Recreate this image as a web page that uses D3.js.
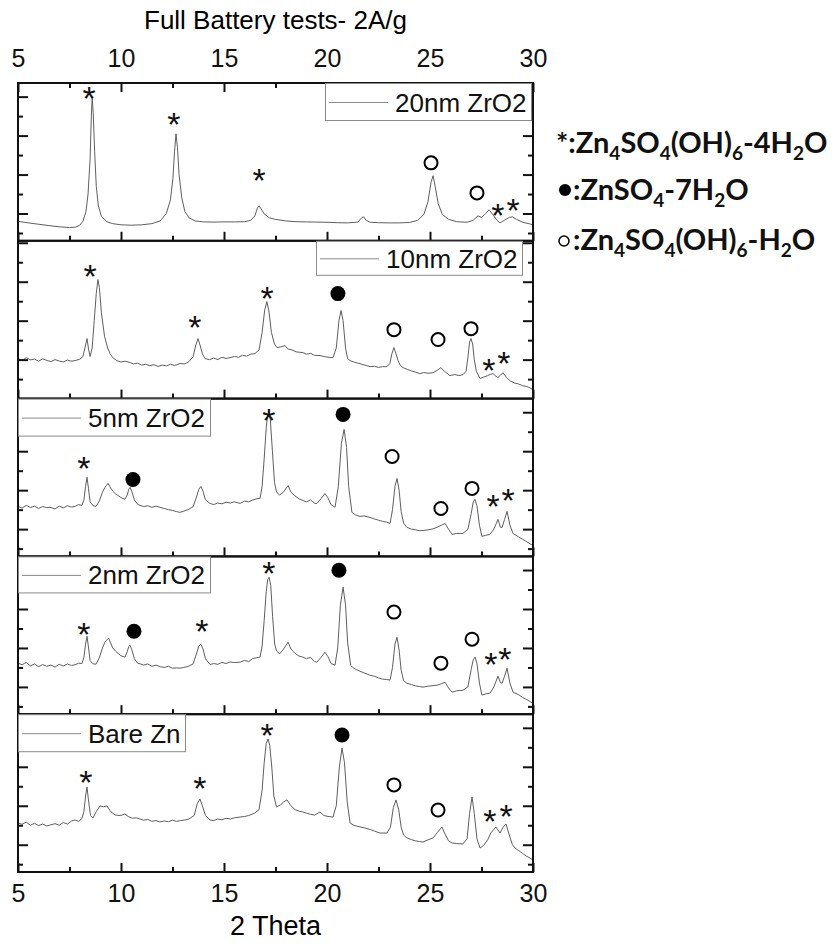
<!DOCTYPE html>
<html>
<head>
<meta charset="utf-8">
<script src="https://cdn.jsdelivr.net/npm/d3@7/dist/d3.min.js"></script>
<style>
body { margin: 0; background: #fff; }
svg { font-family: "Liberation Sans", Arial, sans-serif; }
.frame { fill: none; stroke: #111; stroke-width: 2; }
.axis path { display: none; }
.axis line { stroke: #111; stroke-width: 2; }
.axis text { font-size: 25px; fill: #111; font-family: "Liberation Sans", Arial, sans-serif; }
.trace { fill: none; stroke: #5f5f5f; stroke-width: 1; }
.lgbox { fill: #fff; stroke: #8a8a8a; stroke-width: 1; }
.lgline { stroke: #8a8a8a; stroke-width: 1; }
.lgtext { font-size: 26px; fill: #111; }
.star { font-size: 34px; fill: #111; text-anchor: middle; }
.phase { font-family: Lato, "Open Sans", sans-serif; font-weight: 700; font-size: 29px; fill: #111; }
</style>
</head>
<body>
<div id="root"></div>
<script>
const WIDTH = 835;
const HEIGHT = 945;
const margin = { left: 18, right: 302, top: 83, bottom: 73 };
const plotW = WIDTH - margin.left - margin.right;
const plotH = HEIGHT - margin.top - margin.bottom;

// sample names, top to bottom
const samples = ['20nm ZrO2', '10nm ZrO2', '5nm ZrO2', '2nm ZrO2', 'Bare Zn'];
// lower end of each panel's intensity range (counts), each spans 810
const yLow = [60, 0, 60, 60, 60];
const ySpan = 810;

const xMajor = [5, 10, 15, 20, 25, 30];
const xMinor = [7.5, 12.5, 17.5, 22.5, 27.5];
const yMajor = [200, 400, 600, 800];
const yMinor = [100, 300, 500, 700];

// [2theta, counts]
const zro2_20 = [[5,160],[5.5,152],[6,145],[6.5,138],[7,132],[7.5,128],[7.8,130],[8,140],[8.15,160],[8.3,210],[8.4,300],[8.5,480],[8.56,700],[8.6,794],[8.65,720],[8.72,520],[8.8,340],[8.9,240],[9.05,185],[9.3,158],[9.6,148],[10,142],[10.5,140],[11,142],[11.5,148],[11.9,162],[12.2,200],[12.4,270],[12.52,380],[12.6,520],[12.67,609],[12.74,540],[12.82,400],[12.95,280],[13.1,210],[13.3,178],[13.6,162],[14,157],[14.5,156],[15,157],[15.5,157],[16,158],[16.3,165],[16.5,188],[16.62,228],[16.7,240],[16.8,224],[16.95,198],[17.2,178],[17.5,170],[18,162],[18.5,158],[19,157],[19.5,156],[20,155],[20.5,153],[21,152],[21.5,156],[21.7,180],[21.78,183],[21.9,165],[22.1,155],[22.5,153],[23,152],[23.5,152],[24,154],[24.4,165],[24.7,195],[24.9,260],[25.05,360],[25.15,394],[25.25,340],[25.4,250],[25.6,195],[25.9,170],[26.3,158],[26.8,155],[27.1,166],[27.33,188],[27.5,180],[27.7,200],[27.87,219],[28.05,195],[28.25,165],[28.4,152],[28.6,165],[28.85,180],[29,183],[29.2,170],[29.5,155],[29.8,148],[30,142]];

const zro2_10 = [[5,205],[5.2,196],[5.4,210],[5.6,199],[5.8,203],[6,192],[6.2,204],[6.4,196],[6.6,190],[6.8,200],[7,193],[7.2,188],[7.4,198],[7.6,192],[7.8,196],[8,202],[8.15,215],[8.25,260],[8.35,308],[8.43,250],[8.5,216],[8.6,260],[8.7,400],[8.8,540],[8.88,611],[8.95,570],[9.05,440],[9.2,320],[9.35,260],[9.47,231],[9.6,210],[9.8,195],[10,188],[10.2,192],[10.44,185],[10.6,178],[10.8,182],[11,172],[11.2,176],[11.4,169],[11.6,174],[11.8,165],[12,172],[12.2,168],[12.4,176],[12.6,170],[12.86,180],[13.1,178],[13.3,190],[13.5,215],[13.62,270],[13.74,308],[13.85,270],[13.95,230],[14.08,205],[14.3,200],[14.5,208],[14.7,200],[14.9,212],[15.1,206],[15.29,210],[15.5,216],[15.7,212],[15.9,222],[16.1,218],[16.3,228],[16.5,231],[16.7,250],[16.85,340],[16.97,450],[17.08,498],[17.18,450],[17.3,340],[17.45,280],[17.57,262],[17.75,265],[17.96,272],[18.1,255],[18.3,250],[18.5,240],[18.83,236],[19,228],[19.2,232],[19.4,222],[19.66,221],[19.9,215],[20.1,212],[20.29,210],[20.45,260],[20.58,400],[20.68,452],[20.78,400],[20.9,260],[21,205],[21.12,195],[21.3,188],[21.5,182],[21.7,176],[21.9,170],[22.09,164],[22.3,166],[22.5,160],[22.7,164],[22.91,164],[23.05,180],[23.15,230],[23.25,262],[23.35,230],[23.45,195],[23.55,172],[23.69,159],[23.9,150],[24.1,142],[24.3,136],[24.51,128],[24.7,134],[24.9,130],[25.15,133],[25.35,145],[25.53,159],[25.7,140],[25.97,118],[26.2,124],[26.4,118],[26.6,123],[26.75,140],[26.85,220],[26.92,290],[26.99,308],[27.07,280],[27.15,200],[27.25,140],[27.43,103],[27.6,110],[27.8,118],[27.95,125],[28.06,128],[28.2,115],[28.3,108],[28.42,120],[28.54,133],[28.7,110],[28.9,90],[29.1,80],[29.3,75],[29.5,66],[29.7,62],[29.85,55],[30,46]];

const zro2_5 = [[5,317],[5.2,308],[5.4,322],[5.6,311],[5.8,318],[6,306],[6.2,316],[6.4,310],[6.55,312],[6.8,304],[7,318],[7.2,309],[7.4,320],[7.6,313],[7.77,317],[7.95,326],[8.1,322],[8.2,350],[8.28,420],[8.35,466],[8.42,410],[8.5,340],[8.65,320],[8.79,317],[8.95,345],[9.1,390],[9.22,414],[9.3,425],[9.37,435],[9.45,420],[9.6,395],[9.75,380],[9.85,373],[10,362],[10.19,353],[10.3,375],[10.38,405],[10.44,414],[10.52,395],[10.65,350],[10.8,328],[10.92,322],[11.1,316],[11.3,320],[11.5,312],[11.7,318],[11.89,312],[12.1,306],[12.3,300],[12.5,296],[12.7,290],[12.86,286],[13.05,292],[13.25,300],[13.5,315],[13.65,360],[13.78,405],[13.88,419],[13.98,395],[14.1,350],[14.32,332],[14.5,326],[14.7,334],[14.9,330],[15.1,338],[15.3,334],[15.5,340],[15.78,332],[16,344],[16.2,340],[16.4,350],[16.6,356],[16.75,358],[16.85,420],[16.95,560],[17.05,720],[17.12,790],[17.18,804],[17.25,760],[17.35,600],[17.45,440],[17.55,390],[17.7,375],[17.9,392],[18.11,424],[18.25,390],[18.45,370],[18.65,355],[18.83,347],[19,340],[19.2,350],[19.4,332],[19.51,332],[19.7,355],[19.9,383],[20.05,360],[20.2,325],[20.39,312],[20.55,420],[20.7,640],[20.83,712],[20.95,620],[21.05,420],[21.21,286],[21.4,272],[21.6,265],[21.8,268],[22.09,260],[22.3,252],[22.5,246],[22.7,240],[22.9,236],[23.06,229],[23.18,300],[23.3,420],[23.4,460],[23.5,400],[23.6,290],[23.72,230],[23.88,209],[24.1,200],[24.3,196],[24.5,192],[24.66,193],[24.9,196],[25.1,200],[25.34,209],[25.55,220],[25.73,229],[25.9,200],[26.07,173],[26.3,178],[26.6,178],[26.84,199],[27,280],[27.1,340],[27.18,353],[27.28,320],[27.4,220],[27.52,163],[27.7,168],[27.91,173],[28.1,200],[28.3,250],[28.42,209],[28.5,209],[28.62,250],[28.74,291],[28.88,220],[29.03,178],[29.3,160],[29.5,148],[29.7,135],[29.85,125],[30,116]];

const zro2_2 = [[5,322],[5.2,314],[5.4,326],[5.6,308],[5.8,318],[6,304],[6.2,315],[6.4,306],[6.6,312],[6.8,302],[7,316],[7.2,307],[7.4,318],[7.6,310],[7.77,314],[7.95,322],[8.1,320],[8.2,352],[8.28,420],[8.35,460],[8.42,405],[8.5,335],[8.65,318],[8.79,317],[8.95,350],[9.1,400],[9.22,430],[9.3,440],[9.4,450],[9.48,430],[9.6,400],[9.75,382],[9.85,373],[10,360],[10.19,353],[10.3,380],[10.38,408],[10.44,414],[10.52,392],[10.65,345],[10.8,322],[10.95,318],[11.1,312],[11.3,318],[11.5,306],[11.7,312],[11.9,304],[12.1,300],[12.3,306],[12.5,296],[12.7,298],[12.86,296],[13.05,300],[13.25,305],[13.5,318],[13.65,365],[13.78,410],[13.88,419],[13.98,395],[14.1,345],[14.32,315],[14.5,320],[14.7,316],[14.9,326],[15.1,320],[15.3,328],[15.5,325],[15.78,327],[16,336],[16.2,330],[16.4,346],[16.6,350],[16.75,353],[16.85,410],[16.95,540],[17.05,690],[17.12,750],[17.19,763],[17.27,720],[17.36,560],[17.46,420],[17.55,385],[17.7,370],[17.9,395],[18.11,430],[18.25,395],[18.45,372],[18.65,358],[18.83,353],[19,345],[19.2,352],[19.4,330],[19.51,327],[19.7,350],[19.9,378],[20.05,355],[20.2,320],[20.39,312],[20.52,400],[20.65,620],[20.78,712],[20.9,620],[21,430],[21.15,310],[21.3,296],[21.5,285],[21.8,272],[22.09,260],[22.3,255],[22.5,246],[22.7,240],[22.9,238],[23.06,235],[23.18,300],[23.3,420],[23.4,455],[23.5,390],[23.6,285],[23.72,232],[23.88,219],[24.1,212],[24.3,205],[24.5,202],[24.66,199],[24.9,204],[25.1,206],[25.34,209],[25.55,216],[25.73,224],[25.9,195],[26.07,173],[26.3,180],[26.6,183],[26.84,200],[27,290],[27.1,340],[27.19,353],[27.28,320],[27.4,220],[27.52,158],[27.7,164],[27.91,168],[28.1,200],[28.3,255],[28.42,222],[28.5,219],[28.62,255],[28.74,296],[28.88,220],[29.03,173],[29.3,160],[29.5,146],[29.7,135],[29.85,125],[30,116]];

const bareZn = [[5,312],[5.2,305],[5.4,316],[5.6,300],[5.8,310],[6,298],[6.2,306],[6.4,296],[6.55,301],[6.8,308],[7,300],[7.2,314],[7.4,306],[7.6,322],[7.77,327],[7.95,320],[8.1,334],[8.2,370],[8.28,450],[8.35,496],[8.42,430],[8.52,350],[8.64,337],[8.8,370],[8.98,399],[9.15,395],[9.32,399],[9.5,370],[9.71,353],[9.9,350],[10.05,352],[10.19,358],[10.35,345],[10.55,336],[10.75,338],[10.92,332],[11.1,326],[11.3,330],[11.5,320],[11.7,324],[11.89,317],[12.1,322],[12.3,318],[12.5,326],[12.7,320],[12.9,324],[13.1,327],[13.3,332],[13.55,350],[13.7,410],[13.83,435],[13.95,400],[14.1,350],[14.32,327],[14.5,324],[14.7,332],[14.9,328],[15.1,336],[15.3,332],[15.5,338],[15.78,342],[16,345],[16.2,350],[16.5,363],[16.7,380],[16.85,480],[16.95,620],[17.05,720],[17.14,743],[17.22,710],[17.32,599],[17.42,450],[17.55,394],[17.75,405],[17.9,420],[18.06,430],[18.25,400],[18.45,380],[18.65,372],[18.83,368],[19,362],[19.2,356],[19.4,352],[19.66,368],[19.85,350],[20.05,345],[20.29,342],[20.45,400],[20.6,600],[20.73,696],[20.85,620],[20.98,420],[21.12,312],[21.3,300],[21.5,294],[21.84,286],[22.1,278],[22.3,270],[22.57,260],[22.91,260],[23.08,290],[23.22,390],[23.35,430],[23.48,380],[23.6,290],[23.72,250],[23.88,235],[24.1,226],[24.3,220],[24.5,216],[24.66,214],[24.9,225],[25.15,235],[25.35,262],[25.58,291],[25.75,250],[25.9,220],[26.07,209],[26.3,206],[26.6,204],[26.8,230],[26.92,360],[27.04,445],[27.15,360],[27.28,230],[27.43,183],[27.6,196],[27.8,225],[27.95,260],[28.2,291],[28.4,260],[28.55,290],[28.69,306],[28.85,250],[29,200],[29.13,183],[29.3,170],[29.5,155],[29.7,140],[29.85,132],[30,122]];

const series = [zro2_20, zro2_10, zro2_5, zro2_2, bareZn];

// peak labels: [panel, 2theta, counts]
const starMarks = [[0,8.45,830],[0,12.57,697],[0,16.7,409],[0,28.3,229],[0,29.03,255],
  [1,8.5,667],[1,13.59,406],[1,17.09,554],[1,27.86,185],[1,28.59,221],
  [2,8.2,548],[2,17.18,794],[2,28.06,353],[2,28.79,383],
  [3,8.2,507],[3,13.93,522],[3,17.18,820],[3,27.96,353],[3,28.64,378],
  [4,8.3,558],[4,13.83,527],[4,17.09,799],[4,27.91,358],[4,28.69,383]];
const solidMarks = [[1,20.53,539],[2,10.58,455],[2,20.78,789],[3,10.63,486],[3,20.58,799],[4,20.73,763]];
const openMarks = [[0,25.05,460],[0,27.28,306],
  [1,23.25,354],[1,25.39,303],[1,26.99,359],
  [2,23.16,573],[2,25.53,306],[2,27.04,409],
  [3,23.25,584],[3,25.53,322],[3,27.04,445],
  [4,23.25,507],[4,25.39,378]];

const phases = ['Zn{4}SO{4}(OH){6}-4H{2}O', 'ZnSO{4}-7H{2}O', 'Zn{4}SO{4}(OH){6}-H{2}O'];

// panel legend boxes: x, width, height
const legendBox = [[325, 206, 37], [316, 206, 34], [18, 192, 37], [18, 192, 36], [18, 167, 37]];

const svg = d3.select('#root').append('svg')
    .attr('width', WIDTH)
    .attr('height', HEIGHT);

const x = d3.scaleLinear().domain([5, 30]).range([margin.left, margin.left + plotW]);
const panelH = plotH / samples.length;

samples.forEach((name, i) => {
    const top = margin.top + i * panelH;
    const bottom = top + panelH;
    const y = d3.scaleLinear().domain([yLow[i], yLow[i] + ySpan]).range([bottom, top]);
    const g = svg.append('g');

    const line = d3.line().x(d => x(d[0])).y(d => y(d[1]));
    g.append('path')
        .datum(series[i])
        .attr('class', 'trace')
        .attr('d', line);

    // ticks, all pointing inward
    g.append('g').attr('class', 'axis').attr('transform', `translate(0,${bottom})`)
        .call(d3.axisBottom(x).tickValues(xMajor).tickSize(-9).tickPadding(12)
            .tickFormat(i === samples.length - 1 ? d3.format('d') : ''));
    g.append('g').attr('class', 'axis').attr('transform', `translate(0,${bottom})`)
        .call(d3.axisBottom(x).tickValues(xMinor).tickSize(-5).tickFormat(''));

    if (i === 0) {
        g.append('g').attr('class', 'axis').attr('transform', `translate(0,${top})`)
            .call(d3.axisTop(x).tickValues(xMajor).tickSize(-9).tickPadding(16).tickFormat(d3.format('d')));
        g.append('g').attr('class', 'axis').attr('transform', `translate(0,${top})`)
            .call(d3.axisTop(x).tickValues(xMinor).tickSize(-5).tickFormat(''));
    }

    [[d3.axisLeft, margin.left], [d3.axisRight, margin.left + plotW]].forEach(([ax, pos]) => {
        g.append('g').attr('class', 'axis').attr('transform', `translate(${pos},0)`)
            .call(ax(y).tickValues(yMajor).tickSize(-10).tickFormat(''));
        g.append('g').attr('class', 'axis').attr('transform', `translate(${pos},0)`)
            .call(ax(y).tickValues(yMinor).tickSize(-5).tickFormat(''));
    });

    g.append('rect')
        .attr('class', 'frame')
        .attr('x', margin.left)
        .attr('y', top)
        .attr('width', plotW)
        .attr('height', panelH);

    // legend
    const [lx, lw, lh] = legendBox[i];
    const lg = g.append('g').attr('transform', `translate(${lx},${top})`);
    lg.append('rect').attr('class', 'lgbox').attr('x', 0.5).attr('y', 0.5).attr('width', lw).attr('height', lh);
    lg.append('line').attr('class', 'lgline').attr('x1', 4).attr('x2', 63).attr('y1', lh / 2 + 1).attr('y2', lh / 2 + 1);
    lg.append('text').attr('class', 'lgtext').attr('x', 70).attr('y', lh / 2 + 10).text(name);

    // peak labels
    g.selectAll('.star').data(starMarks.filter(d => d[0] === i))
      .enter().append('text')
        .attr('class', 'star')
        .attr('x', d => x(d[1]))
        .attr('y', d => y(d[2]) + 19)
        .text('*');
    g.selectAll('.solid').data(solidMarks.filter(d => d[0] === i))
      .enter().append('circle')
        .attr('cx', d => x(d[1]))
        .attr('cy', d => y(d[2]))
        .attr('r', 7.5)
        .attr('fill', '#000');
    g.selectAll('.open').data(openMarks.filter(d => d[0] === i))
      .enter().append('circle')
        .attr('cx', d => x(d[1]))
        .attr('cy', d => y(d[2]))
        .attr('r', 6.5)
        .attr('fill', 'none')
        .attr('stroke', '#000')
        .attr('stroke-width', 2);
});

svg.append('text')
    .attr('x', margin.left + plotW / 2)
    .attr('y', 29)
    .attr('text-anchor', 'middle')
    .style('font-size', '26px')
    .text('Full Battery tests- 2A/g');

svg.append('text')
    .attr('x', margin.left + plotW / 2)
    .attr('y', 935)
    .attr('text-anchor', 'middle')
    .style('font-size', '27px')
    .text('2 Theta');

// phase key on the right
function chem(textSel, str) {
    let low = false;
    str.split(/(\{\d+\})/).filter(s => s).forEach(p => {
        const sub = p[0] === '{';
        const t = textSel.append('tspan').text(sub ? p.slice(1, -1) : p);
        if (sub) t.style('font-size', '19px');
        if (sub !== low) t.attr('dy', sub ? 7 : -7);
        low = sub;
    });
}

const key = svg.append('g');
const keyY = [153, 200, 250];
phases.forEach((p, i) => {
    const t = key.append('text').attr('class', 'phase').attr('x', i === 0 ? 556 : 573).attr('y', keyY[i]);
    chem(t, (i === 0 ? '*:' : ':') + p);
});
key.append('circle').attr('cx', 565).attr('cy', 190).attr('r', 6).attr('fill', '#000');
key.append('circle').attr('cx', 564).attr('cy', 241).attr('r', 5).attr('fill', 'none').attr('stroke', '#000').attr('stroke-width', 1.5);
</script>
</body>
</html>
